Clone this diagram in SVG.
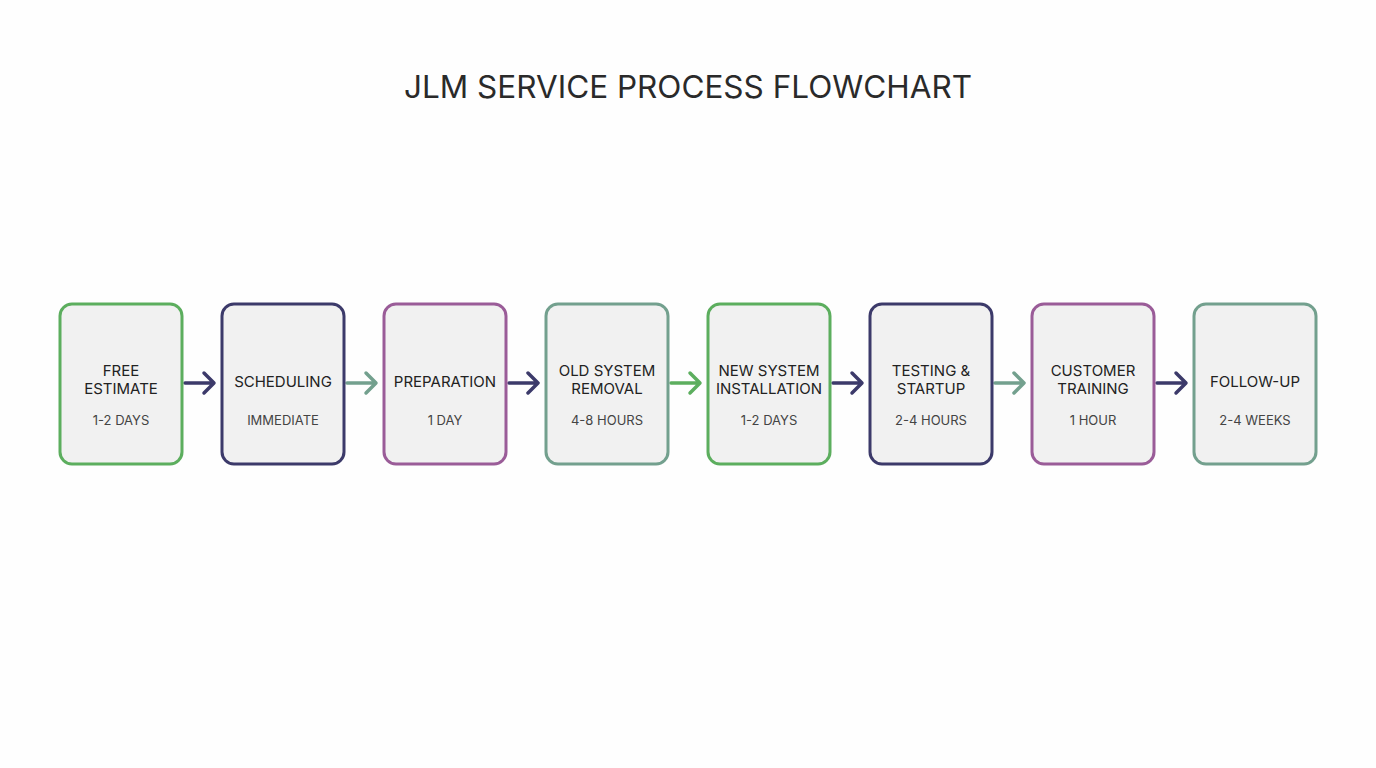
<svg xmlns="http://www.w3.org/2000/svg" width="1376" height="768" viewBox="0 0 1376 768">
<defs>
<style>
.box{fill:#f1f1f1;stroke-width:3}
.g{stroke:#5cae5e}.n{stroke:#3c3a6a}.p{stroke:#9a5c98}.s{stroke:#73a08e}
.t{font-family:Inter,"Liberation Sans",sans-serif;font-size:15px;fill:#222;text-anchor:middle}
.d{font-family:Inter,"Liberation Sans",sans-serif;font-size:13px;fill:#444;text-anchor:middle}
.a{fill:none;stroke-width:3.5;stroke-linecap:round;stroke-linejoin:round}
</style>
</defs>
<rect width="1376" height="768" fill="#fefefe"/>
<text x="688" y="98" font-family="Inter,'Liberation Sans',sans-serif" font-size="31.5" fill="#2a2a2a" text-anchor="middle">JLM SERVICE PROCESS FLOWCHART</text>
<g id="connectors">
<g class="a n"><path d="M185 383H213M204 373L214 383L204 393"/></g>
<g class="a s"><path d="M347 383H375M366 373L376 383L366 393"/></g>
<g class="a n"><path d="M509 383H537M528 373L538 383L528 393"/></g>
<g class="a g"><path d="M671 383H699M690 373L700 383L690 393"/></g>
<g class="a n"><path d="M833 383H861M852 373L862 383L852 393"/></g>
<g class="a s"><path d="M995 383H1023M1014 373L1024 383L1014 393"/></g>
<g class="a n"><path d="M1157 383H1185M1176 373L1186 383L1176 393"/></g>
</g>
<g id="n1"><rect class="box g" x="60" y="304" width="122" height="160" rx="12"/><text class="t" x="121" y="376">FREE</text><text class="t" x="121" y="394">ESTIMATE</text><text class="d" x="121" y="425">1-2 DAYS</text></g>
<g id="n2"><rect class="box n" x="222" y="304" width="122" height="160" rx="12"/><text class="t" x="283" y="387">SCHEDULING</text><text class="d" x="283" y="425">IMMEDIATE</text></g>
<g id="n3"><rect class="box p" x="384" y="304" width="122" height="160" rx="12"/><text class="t" x="445" y="387">PREPARATION</text><text class="d" x="445" y="425">1 DAY</text></g>
<g id="n4"><rect class="box s" x="546" y="304" width="122" height="160" rx="12"/><text class="t" x="607" y="376">OLD SYSTEM</text><text class="t" x="607" y="394">REMOVAL</text><text class="d" x="607" y="425">4-8 HOURS</text></g>
<g id="n5"><rect class="box g" x="708" y="304" width="122" height="160" rx="12"/><text class="t" x="769" y="376">NEW SYSTEM</text><text class="t" x="769" y="394">INSTALLATION</text><text class="d" x="769" y="425">1-2 DAYS</text></g>
<g id="n6"><rect class="box n" x="870" y="304" width="122" height="160" rx="12"/><text class="t" x="931" y="376">TESTING &amp;</text><text class="t" x="931" y="394">STARTUP</text><text class="d" x="931" y="425">2-4 HOURS</text></g>
<g id="n7"><rect class="box p" x="1032" y="304" width="122" height="160" rx="12"/><text class="t" x="1093" y="376">CUSTOMER</text><text class="t" x="1093" y="394">TRAINING</text><text class="d" x="1093" y="425">1 HOUR</text></g>
<g id="n8"><rect class="box s" x="1194" y="304" width="122" height="160" rx="12"/><text class="t" x="1255" y="387">FOLLOW-UP</text><text class="d" x="1255" y="425">2-4 WEEKS</text></g>
</svg>
